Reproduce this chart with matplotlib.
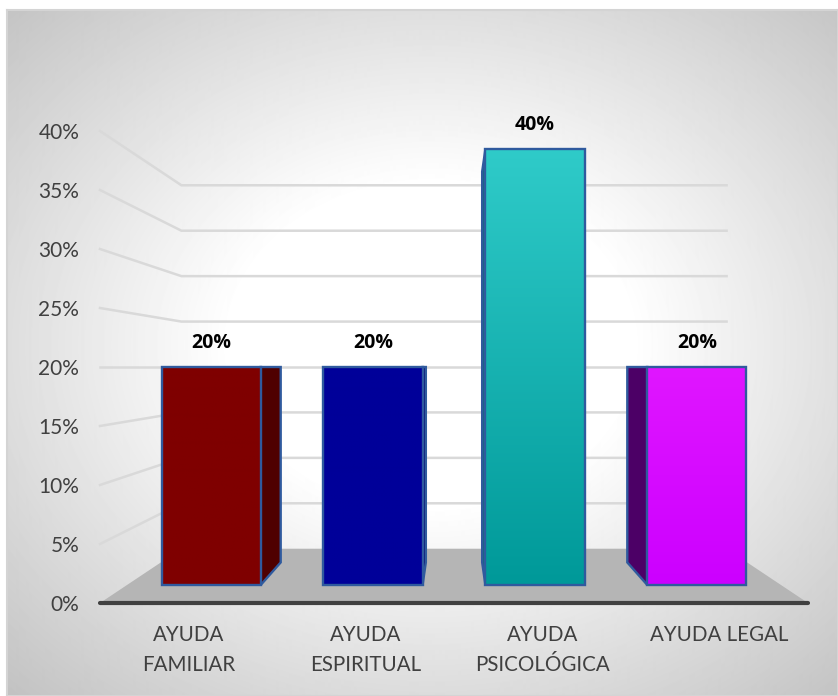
import numpy as np
import matplotlib
matplotlib.use("Agg")
import matplotlib.pyplot as plt

plt.rcParams["font.family"] = ["Lato", "DejaVu Sans"]

categories = ["AYUDA\nFAMILIAR", "AYUDA\nESPIRITUAL", "AYUDA\nPSICOLÓGICA", "AYUDA LEGAL"]
values = [0.20, 0.20, 0.40, 0.20]
value_labels = ["20%", "20%", "40%", "20%"]
y_ticks = [0.0, 0.05, 0.10, 0.15, 0.20, 0.25, 0.30, 0.35, 0.40]
y_tick_labels = ["0%", "5%", "10%", "15%", "20%", "25%", "30%", "35%", "40%"]

front_top = ["#7f0000", "#000099", "#2fcbc9", "#e016ff"]
front_bottom = ["#7f0000", "#000099", "#009999", "#cc00ff"]
side_colors = ["#4f0000", "#00006a", "#0d6e70", "#4c0066"]
edge_color = "#2f5a9e"
W, H = 838, 696

# the depth planes of the fake 3D box, they shrink towards the plot centre
BAR_FRONT = (0.915, 0.924)
BAR_BACK = (0.82, 0.828)
WALL = (0.77, 0.77)
XC, YC = 2.0, 0.20


def proj(x, y, plane):
    return XC + (x - XC) * plane[0], YC + (y - YC) * plane[1]


fig = plt.figure(figsize=(W / 100, H / 100), dpi=100, facecolor="white")

# radial grey background of the chart area
left, right, top, bottom = 7, W, 10, H
bg = fig.add_axes([left / W, 1 - bottom / H, (right - left) / W, (bottom - top) / H])
yy, xx = np.mgrid[top:bottom, left:right]
r = np.hypot((xx - 430) / 430, (yy - 345) / 345) / np.sqrt(2)
shade = 1 - 0.24 * np.clip((r - 0.33) / 0.67, 0, 1)
bg.imshow(shade, cmap="gray", vmin=0, vmax=1, aspect="auto", interpolation="bilinear")
bg.set_xticks([])
bg.set_yticks([])
for s in bg.spines.values():
    s.set_color("#d4d4d4")
    s.set_linewidth(1.5)

ax = fig.add_axes([100 / W, 1 - 603 / H, 708 / W, 472 / H])
ax.patch.set_alpha(0)
ax.set_xlim(0, 4)
ax.set_ylim(0, 0.40)

# floor
fx = [0, 4, proj(4, 0, WALL)[0], proj(0, 0, WALL)[0]]
fy = [0, 0, proj(4, 0, WALL)[1], proj(0, 0, WALL)[1]]
ax.fill(fx, fy, color="#b5b5b5", lw=0, zorder=1)

# gridlines bent along side wall and back wall
for v in y_ticks[1:]:
    xl, yl = proj(0, v, WALL)
    xr, yr = proj(4, v, WALL)
    ax.plot([0, xl, xr], [v, yl, yr], color="#d9d9d9", lw=1.8, zorder=2,
            solid_joinstyle="miter", clip_on=False)

# axis baseline
ax.plot([0, 4], [0, 0], color="#404040", lw=3, zorder=6, clip_on=False,
        solid_capstyle="round")

for i, v in enumerate(values):
    x0, x1 = i + 0.5 - 0.28 / BAR_FRONT[0], i + 0.5 + 0.28 / BAR_FRONT[0]
    # the side that faces the centre is the visible one
    xs = x1 if x1 < XC else x0
    fa = proj(xs, 0, BAR_FRONT)
    fb = proj(xs, v, BAR_FRONT)
    ba = proj(xs, 0, BAR_BACK)
    bb = proj(xs, v, BAR_BACK)
    ax.fill([fa[0], ba[0], bb[0], fb[0]], [fa[1], ba[1], bb[1], fb[1]],
            facecolor=side_colors[i], edgecolor=edge_color, lw=1.7, zorder=3,
            joinstyle="miter")

    lo = proj(x0, 0, BAR_FRONT)
    hi = proj(x1, v, BAR_FRONT)
    ax.bar(lo[0], hi[1] - lo[1], width=hi[0] - lo[0], bottom=lo[1], align="edge",
           facecolor="none", edgecolor=edge_color, lw=1.7, zorder=5)
    c0 = np.array(matplotlib.colors.to_rgb(front_top[i]))
    c1 = np.array(matplotlib.colors.to_rgb(front_bottom[i]))
    t = np.linspace(0, 1, 128)[:, None, None]
    grad = c0 * (1 - t) + c1 * t
    ax.imshow(grad, extent=(lo[0], hi[0], lo[1], hi[1]), aspect="auto", zorder=4,
              interpolation="bilinear")

    ax.annotate(value_labels[i], (0.5 * (lo[0] + hi[0]), hi[1]), xytext=(0, 17.5),
                textcoords="offset points", ha="center", va="center",
                fontsize=14, fontweight="bold", family="Open Sans", color="black",
                zorder=7)

ax.set_xlim(0, 4)
ax.set_ylim(0, 0.40)
ax.set_yticks(y_ticks)
ax.set_yticklabels(y_tick_labels)
ax.set_xticks([i + 0.5 for i in range(len(categories))])
ax.set_xticklabels(categories, linespacing=1.6, va="top")
ax.tick_params(axis="y", length=0, pad=15, labelsize=15, labelcolor="#404040")
ax.tick_params(axis="x", length=0, pad=16, labelsize=14.8, labelcolor="#404040")
for s in ax.spines.values():
    s.set_visible(False)

fig.savefig("out.png", dpi=100)
